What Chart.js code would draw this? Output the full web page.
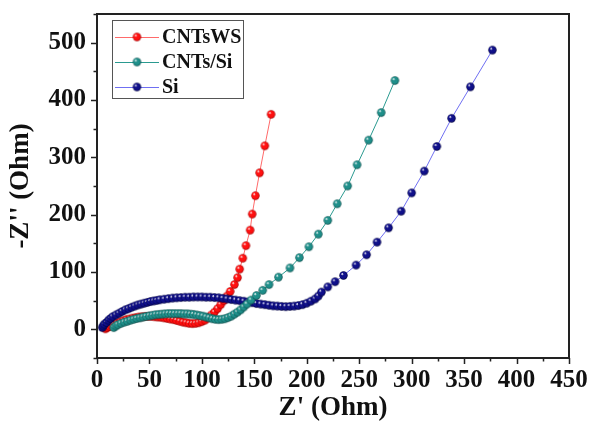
<!DOCTYPE html>
<html>
<head>
<meta charset="utf-8">
<script src="https://cdn.jsdelivr.net/npm/chart.js@4/dist/chart.umd.min.js"></script>
<style>
  html, body { margin: 0; padding: 0; background: #fff; }
  #wrap { width: 591px; height: 422px; }
</style>
</head>
<body>
<div id="wrap"><canvas id="nyquist" width="591" height="422"></canvas></div>
<script>
"use strict";

// ---- data ----
const seriesNames = ["CNTsWS", "CNTs/Si", "Si"];

const wsX = [8,10,12,14,16,19,22,25,28,31,34,37,40,43,46,49,52,55,58,61,64,67,70,73,76,79,82,85,88,91,94,97,100,103,106,109,112,115,118,121,124,127,131,134,136,139,142,146,148,151,155,160,166];
const wsY = [1,3,5,7,9,11,13,15,17,18,19.5,20.5,21.5,22,22.5,22.5,22.5,22,21.5,21,20,19,18,17,15.5,14,12.5,11.5,10.5,10,10.5,11.5,13.5,16,20,25,30,36,43,50,58,66,78,90,105,124,146,173,201,233,273,320,375];

const cntX = [16,18,20,23,26,29,32,35,38,41,44,47,50,53,56,59,62,65,68,71,74,77,80,83,86,89,92,95,98,101,104,107,110,113,116,119,122,125,128,131,134,137,140,143,147,152,158,164,173,184,193,202,211,220,229,239,248,259,271,284];
const cntY = [3,6,8,10.5,12.5,14,16,17.5,19,20,21.5,22.5,23.5,24.5,25.5,26,26.5,27,27.5,27.5,27.5,27.5,27.5,27,27,26.5,26,25,24,23,21.5,20,18.5,17.5,17,17.5,18.5,20.5,23,26.5,30,34,39,44,51,59,68,78,91,107,125,144,166,190,219,250,287,330,378,434];

const siX = [5,6,7,9,11,13,15,18,21,24,27,30,33,36,39,42,45,48,51,54,57,60,64,68,72,76,80,84,88,92,96,100,104,108,112,116,120,124,128,132,136,140,144,148,152,156,160,164,168,172,176,180,184,188,192,196,200,204,208,211,214,220,227,235,247,257,267,278,290,300,312,324,338,356,377];
const siY = [3,6,9,12,16,19,22,25,28,31,34,36,38.5,40.5,42.5,44,45.5,47,48.5,49.5,50.5,51.5,52.5,53.5,54.5,55,55.5,56,56,56.5,56.5,56.5,56,56,55.5,55,54,53,52,51,50,49,47.5,46.5,45,44,43,42,41,40.5,40,39.5,40,40.5,41.5,43,45.5,49,53,58,65,74,83,94,112,130,152,177,206,238,276,319,368,423,487];

const xTicks = [0,50,100,150,200,250,300,350,400,450];
const yTicks = [0,100,200,300,400,500];

// ---- helpers ----
const FONT = "'Liberation Serif', 'Times New Roman', serif";

function pts(xs, ys) {
    return xs.map((x, i) => ({ x: x, y: ys[i] }));
}

// petite bille ombrée pour les marqueurs
function makeBall(base, dark, r) {
    const c = document.createElement("canvas");
    const s = Math.ceil(r * 2 + 2);
    c.width = s; c.height = s;
    const g = c.getContext("2d");
    const cx = s / 2, cy = s / 2;
    const grad = g.createRadialGradient(cx - r * 0.35, cy - r * 0.4, 0.3, cx, cy, r);
    grad.addColorStop(0, "#ffffff");
    grad.addColorStop(0.28, base);
    grad.addColorStop(0.75, base);
    grad.addColorStop(1, dark);
    g.beginPath();
    g.arc(cx, cy, r, 0, Math.PI * 2);
    g.fillStyle = grad;
    g.fill();
    return c;
}

const balls = [
    makeBall("#ff1010", "#a00000", 4.2),
    makeBall("#1f8f8a", "#0c4f4c", 4.2),
    makeBall("#10108a", "#000040", 4.2)
];
const lineColors = ["#ff6a6a", "#2a9a90", "#6f6ff2"];

// cadre + graduations (majeures et mineures, vers l'extérieur)
const framePlugin = {
    id: "frame",
    afterDraw(chart) {
        const { ctx, chartArea: a, scales: { x, y } } = chart;
        ctx.save();
        ctx.strokeStyle = "#222";
        ctx.lineWidth = 1.5;
        ctx.beginPath();
        for (let v = 0; v <= 450; v += 25) {
            const px = Math.round(x.getPixelForValue(v)) + 0.5;
            const len = v % 50 === 0 ? 6 : 3.5;
            ctx.moveTo(px, a.bottom);
            ctx.lineTo(px, a.bottom + len);
        }
        for (let v = -50; v <= 550; v += 50) {
            const py = Math.round(y.getPixelForValue(v)) + 0.5;
            const len = v % 100 === 0 ? 6 : 3.5;
            ctx.moveTo(a.left, py);
            ctx.lineTo(a.left - len, py);
        }
        ctx.stroke();
        ctx.lineWidth = 2;
        ctx.strokeRect(a.left, a.top, a.right - a.left, a.bottom - a.top);
        ctx.restore();
    }
};

// légende dessinée dans la zone du graphe (ligne + bille)
const legendPlugin = {
    id: "boxLegend",
    afterDatasetsDraw(chart) {
        const ctx = chart.ctx;
        const bx = 112, by = 20, bw = 131, bh = 78;
        ctx.save();
        ctx.fillStyle = "#fff";
        ctx.fillRect(bx, by, bw, bh);
        ctx.strokeStyle = "#555";
        ctx.lineWidth = 1;
        ctx.strokeRect(bx + 0.5, by + 0.5, bw, bh);
        ctx.font = "bold 20px " + FONT;
        ctx.textBaseline = "middle";
        seriesNames.forEach((name, i) => {
            const yy = 37 + i * 25;
            ctx.strokeStyle = lineColors[i];
            ctx.lineWidth = 1;
            ctx.beginPath();
            ctx.moveTo(115, yy + 0.5);
            ctx.lineTo(159, yy + 0.5);
            ctx.stroke();
            const b = balls[i];
            ctx.drawImage(b, 137 - b.width / 2, yy - b.height / 2);
            ctx.fillStyle = "#111";
            ctx.fillText(name, 162, yy + 1);
        });
        ctx.restore();
    }
};

function mkDataset(i, xs, ys, order) {
    return {
        label: seriesNames[i],
        data: pts(xs, ys),
        borderColor: lineColors[i],
        borderWidth: 1,
        pointStyle: balls[i],
        pointRadius: 4,
        pointHoverRadius: 4,
        showLine: true,
        tension: 0,
        order: order
    };
}

new Chart(document.getElementById("nyquist"), {
    type: "scatter",
    data: {
        datasets: [
            mkDataset(0, wsX, wsY, 3),
            mkDataset(1, cntX, cntY, 1),
            mkDataset(2, siX, siY, 2)
        ]
    },
    options: {
        responsive: false,
        animation: false,
        layout: { padding: { left: 0, top: 14, right: 22, bottom: 0 } },
        plugins: { legend: { display: false }, tooltip: { enabled: false } },
        scales: {
            x: {
                type: "linear", min: 0, max: 450,
                afterBuildTicks: s => { s.ticks = xTicks.map(v => ({ value: v })); },
                afterFit: s => { s.height = 64; s.paddingLeft = 0; s.paddingRight = 0; },
                grid: { display: false, drawTicks: false },
                border: { display: false },
                ticks: { color: "#111", padding: 8, maxRotation: 0, font: { family: FONT, size: 25, weight: "bold" } },
                title: { display: true, text: "Z' (Ohm)", color: "#111", padding: { top: 0, bottom: 0 },
                         font: { family: FONT, size: 27, weight: "bold", lineHeight: 1 } }
            },
            y: {
                type: "linear", min: -50, max: 550,
                afterBuildTicks: s => { s.ticks = yTicks.map(v => ({ value: v })); },
                afterFit: s => { s.width = 97; s.paddingTop = 0; s.paddingBottom = 0; },
                grid: { display: false, drawTicks: false },
                border: { display: false },
                ticks: { color: "#111", padding: 11, font: { family: FONT, size: 25, weight: "bold" } },
                title: { display: true, text: "-Z'' (Ohm)", color: "#111", padding: { top: 8, bottom: 0 },
                         font: { family: FONT, size: 27, weight: "bold", lineHeight: 1 } }
            }
        }
    },
    plugins: [framePlugin, legendPlugin]
});
</script>
</body>
</html>
